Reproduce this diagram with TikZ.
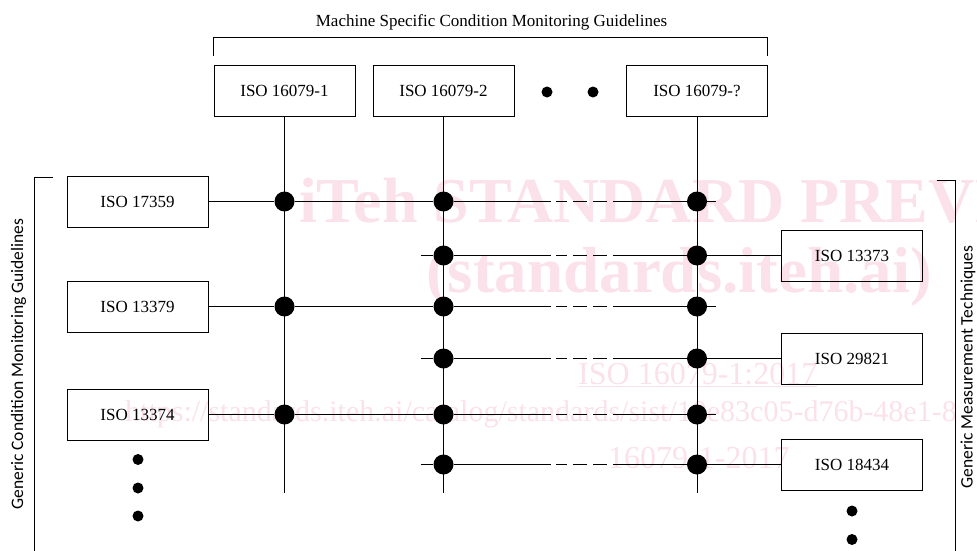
\documentclass[tikz,border=0pt]{standalone}
\usepackage{fontspec}
\setmainfont{Liberation Serif}
\newfontfamily\calib{Carlito}
\definecolor{wm}{RGB}{251,225,233}
\begin{document}
\begin{tikzpicture}[x=1pt,y=-1pt,
  box/.style={draw, line width=1pt, minimum width=141pt, minimum height=51pt, inner sep=0pt, font=\fontsize{17}{20}\selectfont},
  conn/.style={line width=1pt},
  gapdash/.style={line width=1pt, dash pattern=on 0pt off 5pt on 11pt off 6pt on 14pt off 6pt on 14pt off 6pt},
  bigdot/.style={circle, fill=black, minimum size=20pt, inner sep=0pt},
  smalldot/.style={circle, fill=black, minimum size=11pt, inner sep=0pt},
  wmark/.style={text=wm, inner sep=0pt, anchor=base west},
  sidelabel/.style={rotate=90, font=\calib\fontsize{17.5}{20}\selectfont, inner sep=0pt}
]
\useasboundingbox (0,0) rectangle (977,551);

% watermark
\begin{scope}
\clip (0,0) rectangle (977,551);
\node[wmark, font=\bfseries\fontsize{64}{70}\selectfont] (w1) at (299,222) {iTeh STANDARD PREVIEW};
\node[wmark, font=\bfseries\fontsize{65}{70}\selectfont] (w2) at (426,292) {(standards.iteh.ai)};
\node[wmark, font=\fontsize{32}{36}\selectfont] (w3) at (578,384) {\underline{ISO 16079-1:2017}};
\node[wmark, font=\fontsize{30}{34}\selectfont] (w4) at (125,421) {https://standards.iteh.ai/catalog/standards/sist/10e83c05-d76b-48e1-8};
\node[wmark, font=\fontsize{32}{36}\selectfont] (w5) at (608,468) {16079-1-2017};
\end{scope}

% title and top bracket
\node[anchor=base, font=\fontsize{17}{20}\selectfont, inner sep=0pt] (title) at (491.5,27) {Machine Specific Condition Monitoring Guidelines};
\coordinate (tb1) at (213,56);
\coordinate (tb2) at (213,38);
\coordinate (tb3) at (767,38);
\coordinate (tb4) at (767,56);
\draw[conn] (tb1) -- (tb2) -- (tb3) -- (tb4);

% top boxes
\node[box] (m1) at (284.5,91) {ISO 16079-1};
\node[box] (m2) at (443.5,91) {ISO 16079-2};
\node[box] (m3) at (697,91) {ISO 16079-?};
\node[smalldot] (td1) at (547,92) {};
\node[smalldot] (td2) at (593,92) {};

% left bracket and label
\coordinate (lb1) at (53,177.5);
\coordinate (lb2) at (34.5,177.5);
\coordinate (lb3) at (34.5,551);
\draw[conn] (lb1) -- (lb2) -- (lb3);
\node[sidelabel] (lab1) at (18.5,364) {Generic Condition Monitoring Guidelines};

% right bracket and label
\coordinate (rb1) at (936.5,180);
\coordinate (rb2) at (955,180);
\coordinate (rb3) at (955,551);
\draw[conn] (rb1) -- (rb2) -- (rb3);
\node[sidelabel] (lab2) at (968,367) {Generic Measurement Techniques};

% left boxes
\node[box] (g1) at (137.5,201.5) {ISO 17359};
\node[box] (g2) at (137.5,306.5) {ISO 13379};
\node[box] (g3) at (137.5,414.5) {ISO 13374};
\node[smalldot] (ld1) at (138,459.5) {};
\node[smalldot] (ld2) at (138,488) {};
\node[smalldot] (ld3) at (138,516) {};

% right boxes
\node[box] (t1) at (852,255.5) {ISO 13373};
\node[box] (t2) at (852,358.5) {ISO 29821};
\node[box] (t3) at (852,464.5) {ISO 18434};
\node[smalldot] (rd1) at (852,511) {};
\node[smalldot] (rd2) at (852,539.5) {};

% vertical lines
\coordinate (v1) at (284.5,492.5);
\coordinate (v2) at (443.5,492.5);
\coordinate (v3) at (697,492.5);
\draw[conn] (m1.south) -- (v1);
\draw[conn] (m2.south) -- (v2);
\draw[conn] (m3.south) -- (v3);

% row A
\node[bigdot] (dA1) at (284.5,201.5) {};
\node[bigdot] (dA2) at (443.5,201.5) {};
\node[bigdot] (dA3) at (697,201.5) {};
\coordinate (pA1) at (551,201.5);
\coordinate (pA2) at (613,201.5);
\coordinate (eA) at (716,201.5);
\draw[conn] (g1.east) -- (dA1) -- (dA2) -- (pA1);
\draw[gapdash] (pA1) -- (pA2);
\draw[conn] (pA2) -- (dA3) -- (eA);

% row B
\coordinate (sB) at (421,255.5);
\node[bigdot] (dB2) at (443.5,255.5) {};
\node[bigdot] (dB3) at (697,255.5) {};
\coordinate (pB1) at (551,255.5);
\coordinate (pB2) at (613,255.5);
\draw[conn] (sB) -- (dB2) -- (pB1);
\draw[gapdash] (pB1) -- (pB2);
\draw[conn] (pB2) -- (dB3) -- (t1.west);

% row C
\node[bigdot] (dC1) at (284.5,306.5) {};
\node[bigdot] (dC2) at (443.5,306.5) {};
\node[bigdot] (dC3) at (697,306.5) {};
\coordinate (pC1) at (551,306.5);
\coordinate (pC2) at (613,306.5);
\coordinate (eC) at (716,306.5);
\draw[conn] (g2.east) -- (dC1) -- (dC2) -- (pC1);
\draw[gapdash] (pC1) -- (pC2);
\draw[conn] (pC2) -- (dC3) -- (eC);

% row D
\coordinate (sD) at (421,358.5);
\node[bigdot] (dD2) at (443.5,358.5) {};
\node[bigdot] (dD3) at (697,358.5) {};
\coordinate (pD1) at (551,358.5);
\coordinate (pD2) at (613,358.5);
\draw[conn] (sD) -- (dD2) -- (pD1);
\draw[gapdash] (pD1) -- (pD2);
\draw[conn] (pD2) -- (dD3) -- (t2.west);

% row E
\node[bigdot] (dE1) at (284.5,414.5) {};
\node[bigdot] (dE2) at (443.5,414.5) {};
\node[bigdot] (dE3) at (697,414.5) {};
\coordinate (pE1) at (551,414.5);
\coordinate (pE2) at (613,414.5);
\coordinate (eE) at (716,414.5);
\draw[conn] (g3.east) -- (dE1) -- (dE2) -- (pE1);
\draw[gapdash] (pE1) -- (pE2);
\draw[conn] (pE2) -- (dE3) -- (eE);

% row F
\coordinate (sF) at (421,464.5);
\node[bigdot] (dF2) at (443.5,464.5) {};
\node[bigdot] (dF3) at (697,464.5) {};
\coordinate (pF1) at (551,464.5);
\coordinate (pF2) at (613,464.5);
\draw[conn] (sF) -- (dF2) -- (pF1);
\draw[gapdash] (pF1) -- (pF2);
\draw[conn] (pF2) -- (dF3) -- (t3.west);
\end{tikzpicture}
\end{document}
